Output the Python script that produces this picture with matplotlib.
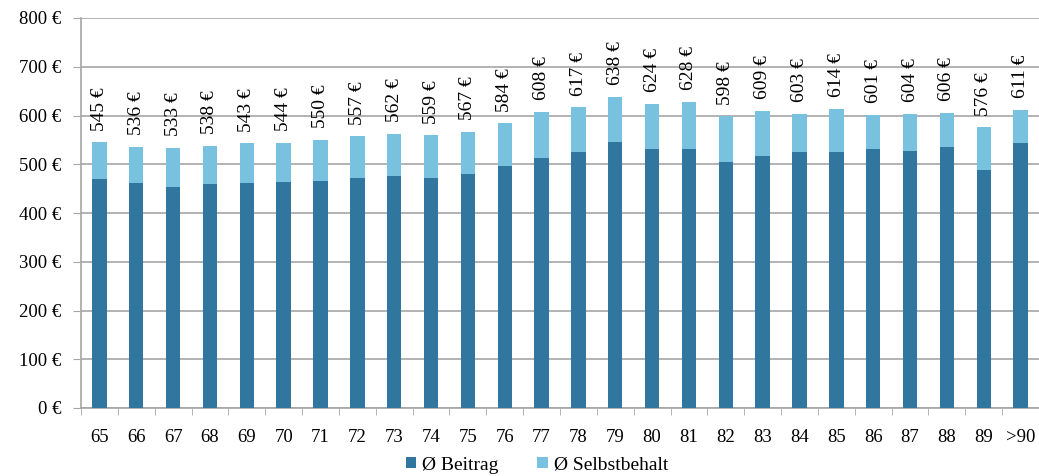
import numpy as np
import matplotlib
matplotlib.use("Agg")
import matplotlib.pyplot as plt

# Alter, Gesamtkosten und Anteil Beitrag
ages = ["65", "66", "67", "68", "69", "70", "71", "72", "73", "74", "75", "76", "77",
        "78", "79", "80", "81", "82", "83", "84", "85", "86", "87", "88", "89", ">90"]
totals = [545, 536, 533, 538, 543, 544, 550, 557, 562, 559, 567, 584, 608,
          617, 638, 624, 628, 598, 609, 603, 614, 601, 604, 606, 576, 611]
beitrag = [470, 461, 454, 459, 461, 464, 466, 472, 476, 472, 479, 497, 512,
           525, 546, 532, 532, 505, 516, 525, 526, 532, 528, 535, 488, 544]
selbstbehalt = [t - b for t, b in zip(totals, beitrag)]

plt.rcParams["font.family"] = ["Liberation Serif", "DejaVu Serif"]

fig = plt.figure(figsize=(10.39, 4.76), dpi=100)
ax = fig.add_axes([81 / 1039, 1 - 408 / 476, 958 / 1039, 390 / 476])

x = np.arange(len(ages))
dark = "#31769F"
light = "#79C2DF"
b1 = ax.bar(x, beitrag, width=0.39, color=dark, label="Ø Beitrag", zorder=3)
b2 = ax.bar(x, selbstbehalt, width=0.39, bottom=beitrag, color=light,
            label="Ø Selbstbehalt", zorder=3)

for xi, t in zip(x, totals):
    ax.text(xi, t + 24, f"{t} €", rotation=90, ha="center", va="bottom",
            fontsize=14, color="black")

ax.set_xlim(-0.5, len(ages) - 0.5)
ax.set_ylim(0, 800)
ax.set_yticks(range(0, 801, 100))
ax.set_yticklabels([f"{v} €" for v in range(0, 801, 100)], fontsize=13.5)
ax.yaxis.grid(True, color="#A6A6A6", linewidth=1.2, zorder=0)

ax.set_xticks(x)
ax.set_xticklabels(ages, fontsize=13.5)
ax.set_xticks(np.arange(-0.5, len(ages), 1), minor=True)
ax.tick_params(axis="x", which="major", length=0, pad=15)
ax.tick_params(axis="x", which="minor", length=5, color="#A6A6A6")
ax.tick_params(axis="y", length=6, color="#A6A6A6", pad=8)

for s in ["top", "right"]:
    ax.spines[s].set_visible(False)
ax.spines["left"].set_color("#A6A6A6")
ax.spines["bottom"].set_color("#A6A6A6")
ax.spines["left"].set_linewidth(1.2)
ax.spines["bottom"].set_linewidth(1.2)

fig.legend(handles=[b1, b2], loc="center", bbox_to_anchor=(537 / 1039, 1 - 465 / 476),
           ncol=2, frameon=False, fontsize=14, handlelength=0.55, handleheight=0.55,
           handletextpad=0.3, columnspacing=2.0, borderaxespad=0)

fig.savefig("out.png", dpi=100)
